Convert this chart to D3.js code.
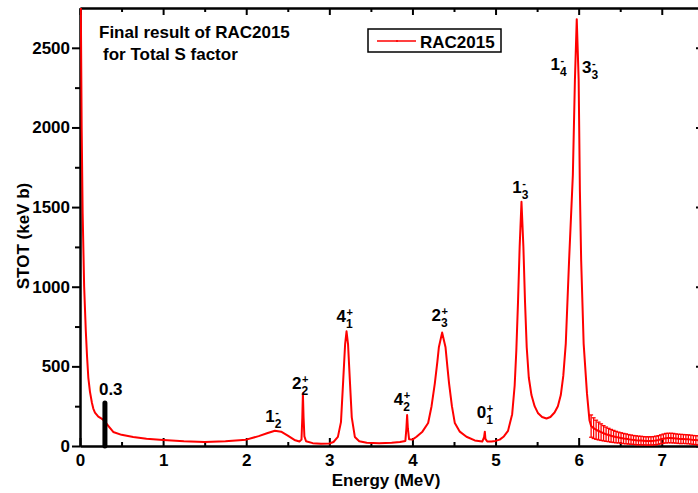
<!DOCTYPE html>
<html>
<head>
<meta charset="utf-8">
<script src="https://cdn.jsdelivr.net/npm/d3@7"></script>
<style>
  body { margin: 0; background: #fff; }
  text { font-family: "Liberation Sans", Arial, sans-serif; font-weight: bold; fill: #000; }
</style>
</head>
<body>
<div id="figure"></div>
<script>
// smooth part of the total S factor (energy in MeV, STOT in keV b)
const curveE = [0.008, 0.02, 0.032, 0.05, 0.07, 0.085, 0.1, 0.12, 0.144, 0.16, 0.18, 0.22, 0.26, 0.29, 0.35, 0.4, 0.5, 0.64, 0.8, 1.0,
  1.25, 1.5, 1.75, 2.0, 2.15, 2.25, 2.345, 2.42, 2.5, 2.58, 2.64, 2.665, 2.675, 2.682, 2.69, 2.70, 2.72, 2.8, 2.9, 3.0,
  3.05, 3.103, 3.14, 3.167, 3.19, 3.207, 3.225, 3.247, 3.27, 3.307, 3.36, 3.45, 3.6, 3.75, 3.85, 3.915, 3.927, 3.936, 3.945, 3.96,
  4.0, 4.049, 4.12, 4.189, 4.23, 4.269, 4.3, 4.318, 4.357, 4.398, 4.42, 4.441, 4.475, 4.51, 4.57, 4.65, 4.75, 4.84, 4.862, 4.871,
  4.878, 4.9, 4.95, 5.0, 5.05, 5.1, 5.15, 5.2, 5.23, 5.25, 5.27, 5.29, 5.312, 5.335, 5.355, 5.375, 5.4, 5.432, 5.47, 5.512,
  5.56, 5.613, 5.66, 5.71, 5.75, 5.785, 5.815, 5.845, 5.885, 5.93, 5.955, 5.977, 6.0, 6.015, 6.03, 6.06, 6.10, 6.13];
const curveS = [2900, 2000, 1460, 1000, 720, 560, 430, 340, 270, 235, 210, 185, 172, 160, 120, 88, 70, 57, 45, 38,
  30, 25, 30, 40, 62, 80, 96, 90, 65, 38, 28, 40, 180, 331, 180, 60, 30, 18, 14, 16,
  25, 57, 150, 412, 640, 720, 640, 412, 180, 57, 30, 20, 17, 20, 25, 32, 110, 194, 110, 42,
  40, 58, 90, 144, 250, 392, 530, 620, 712, 620, 500, 392, 250, 144, 90, 58, 35, 28, 55, 90,
  45, 28, 28, 32, 40, 60, 95, 200, 380, 600, 900, 1250, 1533, 1250, 900, 620, 430, 320, 250, 205,
  182, 173, 182, 210, 250, 320, 440, 643, 1168, 1700, 2300, 2680, 2300, 1600, 1168, 643, 330, 162];

// high-energy tail with error bars
const tailE = [6.15, 6.18, 6.21, 6.24, 6.27, 6.30, 6.33, 6.36, 6.39, 6.42, 6.45, 6.48, 6.51, 6.54, 6.57, 6.60, 6.63, 6.66, 6.69, 6.72,
  6.75, 6.78, 6.81, 6.84, 6.87, 6.90, 6.93, 6.96, 6.99, 7.02, 7.05, 7.08, 7.11, 7.14, 7.17, 7.20, 7.23, 7.26, 7.29, 7.32,
  7.35, 7.38, 7.41, 7.44, 7.47];
const tailS = [125, 112, 102, 94, 87, 80, 74, 69, 64, 60, 56, 53, 50, 47, 45, 42, 40, 38, 36, 35,
  34, 33, 32, 32, 32, 33, 35, 38, 42, 46, 49, 50, 50, 49, 47, 45, 44, 44, 43, 42,
  40, 38, 37, 36, 35];
const tailErr = [70, 65, 60, 56, 52, 48, 45, 42, 40, 38, 36, 34, 33, 32, 31, 30, 29, 28, 28, 27,
  27, 26, 26, 26, 26, 26, 27, 27, 28, 29, 30, 30, 30, 30, 29, 29, 29, 28, 28, 28,
  28, 28, 28, 28, 28];

// level labels: J, parity, index, anchor (E, STOT)
const levelJ = ["1", "2", "4", "4", "2", "0", "1", "1", "3"];
const levelP = ["-", "+", "+", "+", "+", "+", "-", "-", "-"];
const levelN = ["2", "2", "1", "2", "3", "1", "3", "4", "3"];
const levelE = [2.23, 2.55, 3.085, 3.775, 4.23, 4.775, 5.2, 5.66, 6.04];
const levelS = [153, 358, 777, 258, 787, 174, 1587, 2362, 2341];

const xTicks = [0, 1, 2, 3, 4, 5, 6, 7];
const xMinor = [0.5, 1.5, 2.5, 3.5, 4.5, 5.5, 6.5, 7.5];
const yTicks = [0, 500, 1000, 1500, 2000, 2500];
const yMinor = [250, 750, 1250, 1750, 2250];

const W = 698, H = 493;
const svg = d3.select("#figure").append("svg")
  .attr("width", W).attr("height", H);

const x = d3.scaleLinear().domain([0, 7.46]).range([80, 700]);
const y = d3.scaleLinear().domain([0, 2750]).range([446, 8]);

svg.append("clipPath").attr("id", "clip")
  .append("rect").attr("x", 80).attr("y", 8).attr("width", 620).attr("height", 438);

// axes
const fmt = d3.format("d");
svg.append("g").attr("transform", "translate(0,446)")
  .call(d3.axisBottom(x).tickValues(xTicks).tickFormat(fmt).tickSizeInner(-8).tickSizeOuter(0).tickPadding(8));
svg.append("g").attr("transform", "translate(0,446)")
  .call(d3.axisBottom(x).tickValues(xMinor).tickFormat("").tickSizeInner(-4).tickSizeOuter(0));
svg.append("g").attr("transform", "translate(0,8)")
  .call(d3.axisTop(x).tickValues(xTicks).tickFormat("").tickSizeInner(-7).tickSizeOuter(0));
svg.append("g").attr("transform", "translate(0,8)")
  .call(d3.axisTop(x).tickValues(xMinor).tickFormat("").tickSizeInner(-4).tickSizeOuter(0));
svg.append("g").attr("transform", "translate(80,0)")
  .call(d3.axisLeft(y).tickValues(yTicks).tickFormat(fmt).tickSizeInner(8).tickSizeOuter(0).tickPadding(2));
svg.append("g").attr("transform", "translate(80,0)")
  .call(d3.axisLeft(y).tickValues(yMinor).tickFormat("").tickSizeInner(5).tickSizeOuter(0));
svg.append("g").attr("transform", "translate(700,0)")
  .call(d3.axisRight(y).tickValues(yTicks).tickFormat("").tickSizeInner(-4).tickSizeOuter(0));

svg.selectAll(".domain").attr("stroke", "#000").attr("stroke-width", 2);
svg.selectAll(".tick line").attr("stroke", "#000").attr("stroke-width", 2);
svg.selectAll(".tick text").attr("font-size", 17).attr("font-family", "'Liberation Sans', Arial, sans-serif");

// axis titles
svg.append("text").attr("x", 386).attr("y", 486).attr("text-anchor", "middle")
  .attr("font-size", 17).text("Energy (MeV)");
svg.append("text").attr("transform", "translate(28.5,236) rotate(-90)").attr("text-anchor", "middle")
  .attr("font-size", 17).text("STOT (keV b)");

// curve
const pts = curveE.map((e, i) => [e, curveS[i]]).concat(tailE.map((e, i) => [e, tailS[i]]));
const plot = svg.append("g").attr("clip-path", "url(#clip)");
plot.append("path").datum(pts)
  .attr("fill", "none").attr("stroke", "#ff0000").attr("stroke-width", 2)
  .attr("stroke-linejoin", "round")
  .attr("d", d3.line().x(d => x(d[0])).y(d => y(d[1])));

// error bars on the tail
const eb = plot.append("g").attr("stroke", "#ff0000").attr("stroke-width", 1.3);
tailE.forEach((e, i) => {
  const xe = x(e), y0 = y(tailS[i] - tailErr[i]), y1 = y(tailS[i] + tailErr[i]);
  eb.append("line").attr("x1", xe).attr("x2", xe).attr("y1", y0).attr("y2", y1);
  eb.append("line").attr("x1", xe - 2).attr("x2", xe + 2).attr("y1", y0).attr("y2", y0);
  eb.append("line").attr("x1", xe - 2).attr("x2", xe + 2).attr("y1", y1).attr("y2", y1);
});

// 0.3 MeV marker
svg.append("line").attr("x1", x(0.3)).attr("x2", x(0.3)).attr("y1", y(0)).attr("y2", y(270))
  .attr("stroke", "#000").attr("stroke-width", 5).attr("stroke-linecap", "round");
svg.append("text").attr("x", x(0.3) - 6).attr("y", 395).attr("font-size", 17).text("0.3");

// level labels
levelJ.forEach((j, i) => {
  const lx = x(levelE[i]), ly = y(levelS[i]);
  svg.append("text").attr("x", lx).attr("y", ly).attr("font-size", 17).text(j);
  svg.append("text").attr("x", lx + 10).attr("y", ly - 6).attr("font-size", 11)
    .text(levelP[i] === "-" ? "-" : "+");
  svg.append("text").attr("x", lx + 9.5).attr("y", ly + 6).attr("font-size", 12).text(levelN[i]);
});

// title
svg.append("text").attr("x", 99).attr("y", 38).attr("font-size", 17).text("Final result of RAC2015");
svg.append("text").attr("x", 103).attr("y", 60).attr("font-size", 17).text("for Total S factor");

// legend
const lg = svg.append("g");
lg.append("rect").attr("x", 368).attr("y", 29).attr("width", 133).attr("height", 23)
  .attr("fill", "#fff").attr("stroke", "#000").attr("stroke-width", 1.5);
lg.append("line").attr("x1", 377).attr("x2", 416).attr("y1", 41).attr("y2", 41)
  .attr("stroke", "#ff0000").attr("stroke-width", 1.5);
lg.append("line").attr("x1", 397).attr("x2", 397).attr("y1", 40).attr("y2", 42)
  .attr("stroke", "#ff0000").attr("stroke-width", 1.5);
lg.append("text").attr("x", 420).attr("y", 47.5).attr("font-size", 17).text("RAC2015");
</script>
</body>
</html>
